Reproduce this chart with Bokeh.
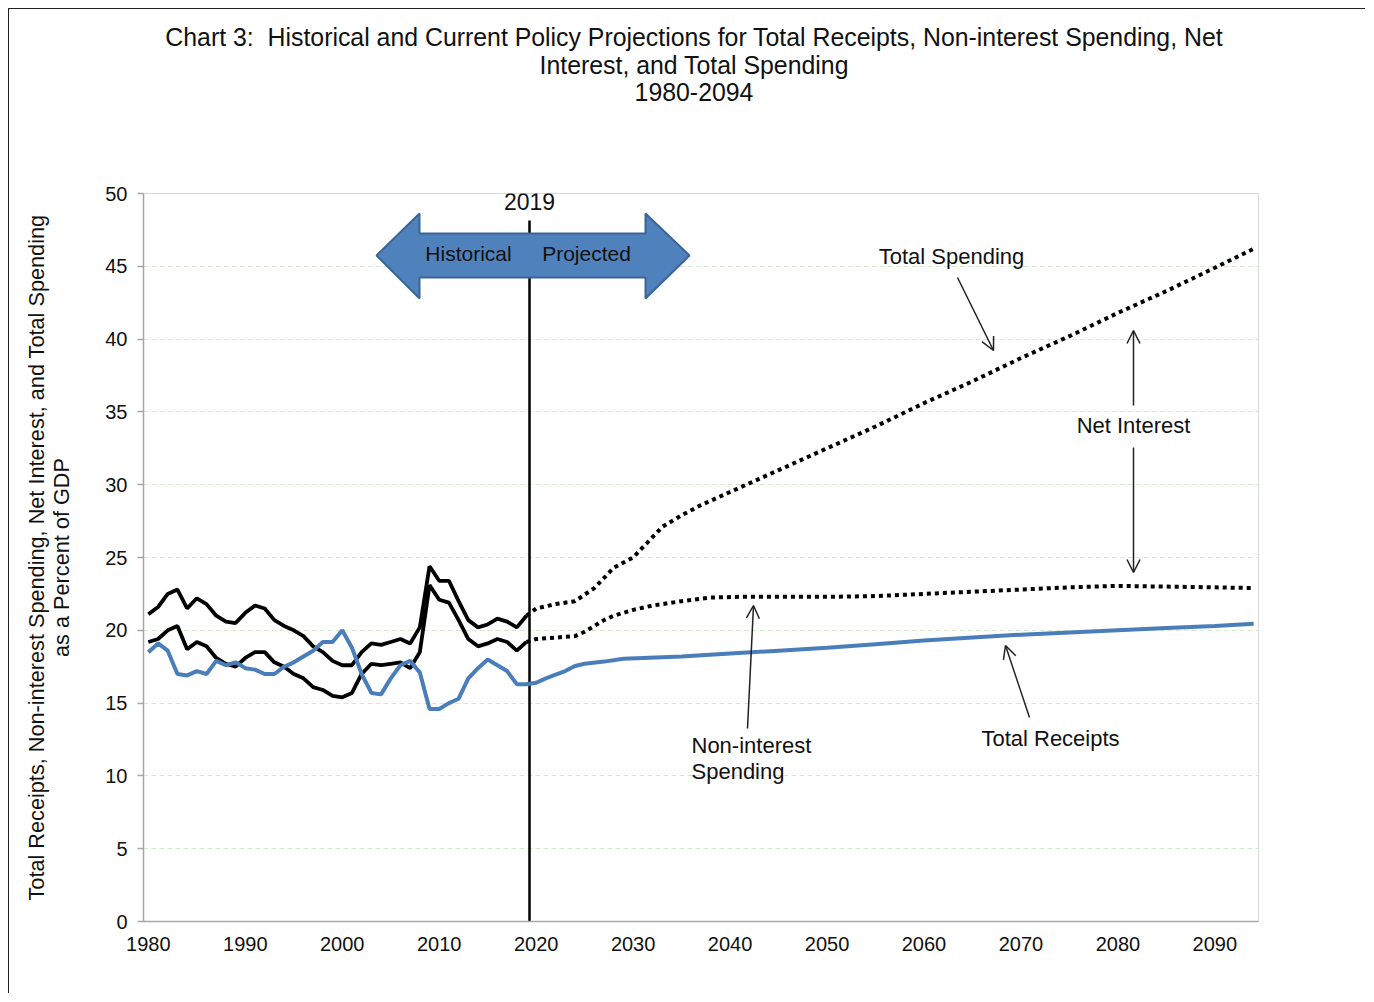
from bokeh.plotting import figure
from bokeh.models import Label, Arrow, OpenHead, FixedTicker, Range1d, Div
from bokeh.layouts import column
from bokeh.embed import file_html
from bokeh.resources import INLINE

# ---------------- data (percent of GDP) ----------------
hist_years = list(range(1980, 2020))
hist_total_spending = [21.1, 21.6, 22.5, 22.8, 21.5, 22.2, 21.8, 21.0, 20.6, 20.5,
                       21.2, 21.7, 21.5, 20.7, 20.3, 20.0, 19.6, 18.9, 18.5, 17.9,
                       17.6, 17.6, 18.5, 19.1, 19.0, 19.2, 19.4, 19.1, 20.2, 24.4,
                       23.4, 23.4, 22.0, 20.7, 20.2, 20.4, 20.8, 20.6, 20.2, 21.0]
hist_noninterest = [19.2, 19.4, 20.0, 20.3, 18.7, 19.2, 18.9, 18.1, 17.7, 17.5,
                    18.1, 18.5, 18.5, 17.8, 17.5, 17.0, 16.7, 16.1, 15.9, 15.5,
                    15.4, 15.7, 17.0, 17.7, 17.6, 17.7, 17.8, 17.4, 18.5, 23.1,
                    22.1, 21.9, 20.7, 19.4, 18.9, 19.1, 19.4, 19.2, 18.6, 19.2]
hist_receipts = [18.5, 19.1, 18.6, 17.0, 16.9, 17.2, 17.0, 17.9, 17.6, 17.8,
                 17.4, 17.3, 17.0, 17.0, 17.5, 17.8, 18.2, 18.6, 19.2, 19.2,
                 20.0, 18.8, 17.0, 15.7, 15.6, 16.7, 17.6, 17.9, 17.1, 14.6,
                 14.6, 15.0, 15.3, 16.7, 17.4, 18.0, 17.6, 17.2, 16.3, 16.3]

proj_spending_years = [2019, 2020, 2022, 2024, 2026, 2028, 2030, 2032, 2033, 2035,
                       2037, 2040, 2043, 2045, 2050, 2055, 2060, 2065, 2070, 2075,
                       2080, 2085, 2090, 2094]
proj_total_spending = [21.0, 21.5, 21.8, 22.0, 22.9, 24.3, 25.0, 26.4, 27.1, 27.9,
                       28.6, 29.5, 30.4, 31.0, 32.5, 34.0, 35.6, 37.1, 38.7, 40.2,
                       41.8, 43.3, 44.9, 46.2]

proj_nonint_years = [2019, 2020, 2022, 2024, 2025, 2026, 2027, 2028, 2030, 2032,
                     2035, 2038, 2041, 2045, 2050, 2055, 2060, 2065, 2070, 2075,
                     2080, 2085, 2090, 2094]
proj_noninterest = [19.2, 19.4, 19.5, 19.6, 19.9, 20.3, 20.7, 21.0, 21.4, 21.7,
                    22.0, 22.25, 22.3, 22.3, 22.3, 22.35, 22.5, 22.65, 22.8, 22.95,
                    23.05, 23.0, 22.95, 22.9]

proj_receipt_years = [2020, 2021, 2022, 2023, 2024, 2025, 2027, 2029, 2035, 2040,
                      2045, 2050, 2055, 2060, 2065, 2070, 2075, 2080, 2085, 2090, 2094]
proj_receipts = [16.4, 16.7, 16.95, 17.2, 17.55, 17.7, 17.85, 18.05, 18.2, 18.4,
                 18.6, 18.8, 19.05, 19.3, 19.5, 19.7, 19.85, 20.0, 20.15, 20.3, 20.45]

x_tick_years = [1980, 1990, 2000, 2010, 2020, 2030, 2040, 2050, 2060, 2070, 2080, 2090]
y_ticks = [0, 5, 10, 15, 20, 25, 30, 35, 40, 45, 50]

title_lines = ["Chart 3:&nbsp; Historical and Current Policy Projections for Total Receipts, Non-interest Spending, Net",
               "Interest, and Total Spending",
               "1980-2094"]
y_label_lines = ["Total Receipts, Non-interest Spending, Net Interest, and Total Spending",
                 "as a Percent of GDP"]

# ---------------- layout helpers ----------------
FONT = "Liberation Sans"
TXT = "#111111"
L, R, T, B = 143, 1258, 193, 921          # plot frame on page (px)
X0, X1, Y0, Y1 = 1979.5, 2094.5, 0, 50
W = 1356
TH = 110                                   # height of the title block
H = 984 - TH                               # height of the figure
OX, OY = 9, 9 + TH                         # page position of the figure canvas


def dx(px):
    return X0 + (px - L) * (X1 - X0) / (R - L)


def dy(py):
    return Y0 + (B - py) * (Y1 - Y0) / (B - T)


title_div = Div(
    text="<div style=\"font-family:'Liberation Sans',Arial,sans-serif;font-size:24.85px;"
         "line-height:27.5px;text-align:center;color:#111111;padding-top:15px;"
         "padding-left:14px;width:" + str(W) + "px;box-sizing:border-box;\">"
         + "<br>".join(title_lines) + "</div>",
    width=W, height=TH, margin=0)

p = figure(width=W, height=H, x_range=Range1d(X0, X1), y_range=Range1d(Y0, Y1),
           output_backend="svg", toolbar_location=None, title=None, margin=0,
           min_border_left=L - OX, min_border_right=OX + W - R,
           min_border_top=T - OY, min_border_bottom=OY + H - B)
p.background_fill_color = "white"
p.border_fill_color = "white"
p.outline_line_color = "#d9d9d9"
p.outline_line_width = 1

# axes
for ax in (p.xaxis, p.yaxis):
    ax.axis_line_color = "#a6a6a6"
    ax.axis_line_width = 1.5
    ax.major_tick_line_color = "#a6a6a6"
    ax.major_tick_line_width = 1.5
    ax.minor_tick_out = 0
    ax.minor_tick_in = 0
    ax.major_label_text_font = FONT
    ax.major_label_text_font_size = "20px"
    ax.major_label_text_color = TXT
p.xaxis.ticker = FixedTicker(ticks=x_tick_years)
p.yaxis.ticker = FixedTicker(ticks=y_ticks)
p.xaxis.major_tick_out = 0
p.xaxis.major_tick_in = 0
p.xaxis.major_label_standoff = 15
p.yaxis.major_tick_out = 6
p.yaxis.major_tick_in = 0
p.yaxis.major_label_standoff = 10

p.yaxis.axis_label = "\n".join(y_label_lines)
p.yaxis.axis_label_text_font = FONT
p.yaxis.axis_label_text_font_size = "21.7px"
p.yaxis.axis_label_text_font_style = "normal"
p.yaxis.axis_label_text_color = TXT
p.yaxis.axis_label_text_line_height = 1.0
p.yaxis.axis_label_standoff = 28

p.xgrid.visible = False
p.ygrid.grid_line_color = "#d6e8cf"
p.ygrid.grid_line_dash = "5 3"
p.ygrid.grid_line_width = 1

# divider line at 2019
div_x = dx(529)
p.segment(x0=[div_x], y0=[0], x1=[div_x], y1=[dy(220)], line_color="black", line_width=2.5)

# series
p.line(hist_years, hist_total_spending, line_color="black", line_width=3.8)
p.line(hist_years, hist_noninterest, line_color="black", line_width=3.8)
p.line(proj_spending_years, proj_total_spending, line_color="black", line_width=4,
       line_dash="4 4")
p.line(proj_nonint_years, proj_noninterest, line_color="black", line_width=4,
       line_dash="4 4")
p.line(hist_years + proj_receipt_years, hist_receipts + proj_receipts,
       line_color="#4A7EBB", line_width=4)

# double arrow Historical / Projected
arrow_px = [(376, 255), (419, 213), (419, 233), (645, 233), (645, 213), (689, 255),
            (645, 298), (645, 277), (419, 277), (419, 298)]
p.patch([dx(a) for a, b in arrow_px], [dy(b) for a, b in arrow_px],
        fill_color="#4F81BD", line_color="#3A6596", line_width=2)


def label(text, px, py, size="22px", align="center"):
    p.add_layout(Label(x=dx(px), y=dy(py), text=text, text_font=FONT,
                       text_font_size=size, text_color=TXT, text_align=align,
                       text_baseline="middle"))


label("2019", 529, 201, size="23px")
label("Historical", 468, 253, size="21px")
label("Projected", 586, 253, size="21px")
label("Total Spending", 951, 256)
label("Net Interest", 1133, 425)
label("Non-interest", 691, 745, align="left")
label("Spending", 691, 771, align="left")
label("Total Receipts", 1050, 738)


def arrow(x0, y0, x1, y1):
    p.add_layout(Arrow(end=OpenHead(size=13, line_width=1.5, line_color="#222222"),
                       x_start=dx(x0), y_start=dy(y0), x_end=dx(x1), y_end=dy(y1),
                       line_color="#222222", line_width=1.5))


arrow(957, 277, 993, 350)
arrow(1133, 405, 1133, 330)
arrow(1133, 447, 1133, 572)
arrow(747, 728, 753, 605)
arrow(1029, 717, 1005, 645)

page = column(title_div, p, spacing=0)
page.styles = {"margin-left": "8px", "margin-top": "8px", "background-color": "white",
               "border-left": "1px solid #222222", "border-top": "1px solid #222222"}

open("out.html", "w").write(file_html(page, INLINE))
